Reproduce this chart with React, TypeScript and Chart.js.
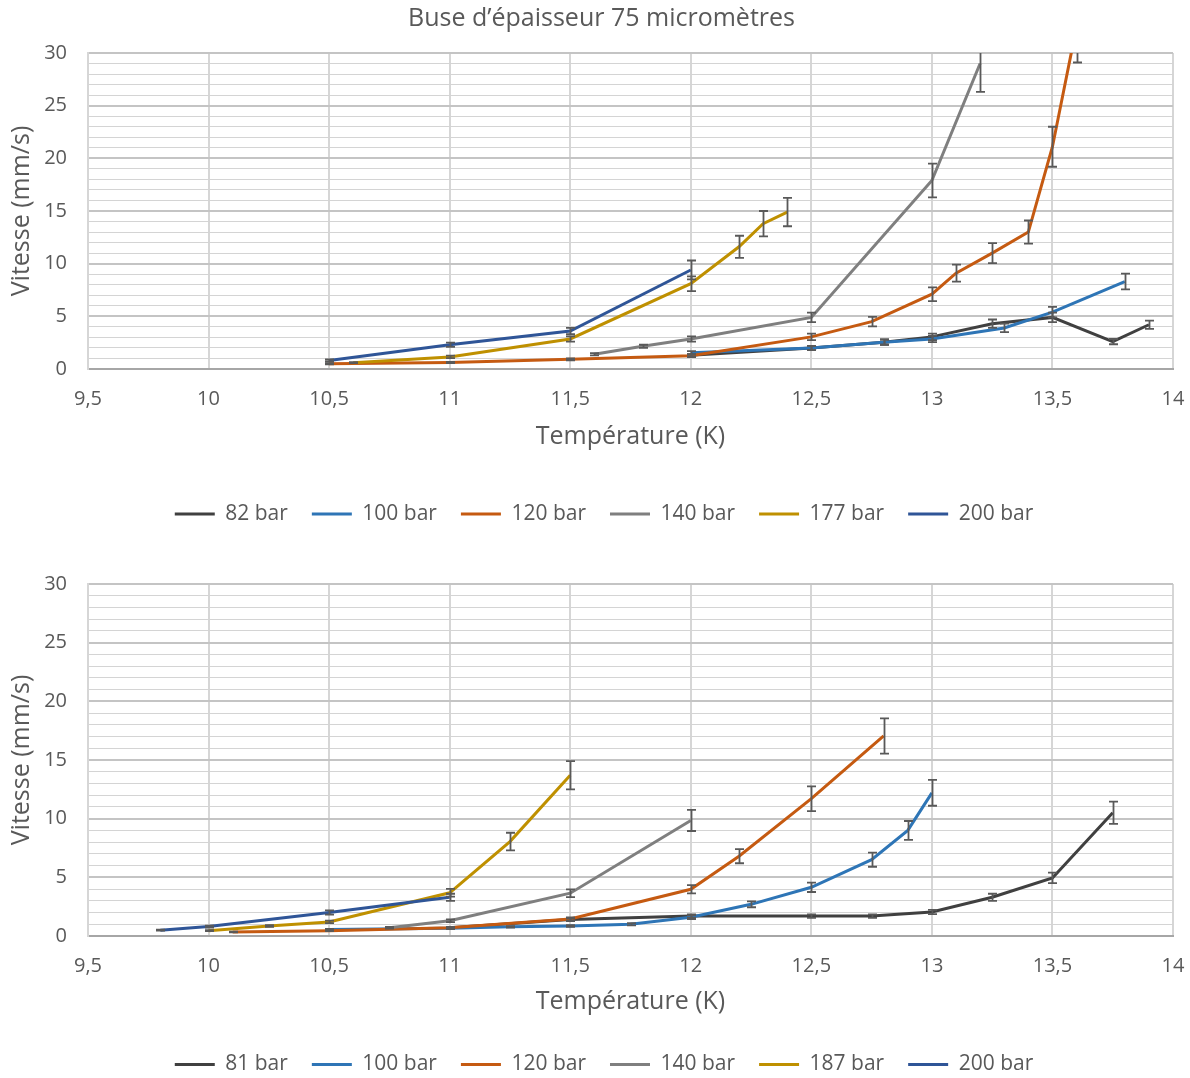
import React, { useEffect, useRef } from "react";
import { Chart, registerables } from "chart.js";

Chart.register(...registerables);

const FONT = "'Open Sans', 'Noto Sans', sans-serif";
const TEXT = "#595959";

// ---------- texts & ticks ----------
const topTitle = "Buse d’épaisseur 75 micromètres";
const xAxisTitle = "Température (K)";
const yAxisTitle = "Vitesse (mm/s)";
const xTicks = [9.5, 10, 10.5, 11, 11.5, 12, 12.5, 13, 13.5, 14];
const xTickLabels = ["9,5", "10", "10,5", "11", "11,5", "12", "12,5", "13", "13,5", "14"];
const yTicks = Array.from({ length: 31 }, (_, i) => i);
const yTickLabels = ["0", "5", "10", "15", "20", "25", "30"];

const seriesColors = ["#404040", "#2e75b6", "#c55a11", "#7f7f7f", "#bf9000", "#2f5597"];
const topLabels = ["82 bar", "100 bar", "120 bar", "140 bar", "177 bar", "200 bar"];
const bottomLabels = ["81 bar", "100 bar", "120 bar", "140 bar", "187 bar", "200 bar"];

// ---------- top chart data ----------
const t82X = [12, 12.5, 12.8, 13, 13.25, 13.5, 13.75, 13.9];
const t82Y = [1.3, 2.0, 2.55, 3.05, 4.3, 4.9, 2.6, 4.2];
const t82E = [0.12, 0.2, 0.25, 0.3, 0.4, 0.45, 0.25, 0.4];

const t100X = [12, 12.5, 12.8, 13, 13.3, 13.5, 13.8];
const t100Y = [1.55, 2.0, 2.55, 2.85, 3.9, 5.4, 8.3];
const t100E = [0.15, 0.2, 0.25, 0.3, 0.4, 0.5, 0.75];

const t120X = [10.5, 11, 11.5, 12, 12.5, 12.75, 13, 13.1, 13.25, 13.4, 13.5, 13.6];
const t120Y = [0.5, 0.62, 0.92, 1.25, 3.05, 4.5, 7.1, 9.1, 11.0, 13.0, 21.1, 32.5];
const t120E = [0.05, 0.06, 0.09, 0.12, 0.3, 0.45, 0.65, 0.8, 0.95, 1.1, 1.9, 3.4];

const t140X = [11.6, 11.8, 12, 12.5, 13, 13.2];
const t140Y = [1.4, 2.15, 2.85, 4.9, 17.9, 29.0];
const t140E = [0.1, 0.15, 0.25, 0.45, 1.6, 2.7];

const t177X = [10.6, 11, 11.5, 12, 12.2, 12.3, 12.4];
const t177Y = [0.6, 1.15, 2.85, 8.1, 11.6, 13.8, 14.9];
const t177E = [0.05, 0.12, 0.25, 0.7, 1.05, 1.2, 1.35];

const t200X = [10.5, 11, 11.5, 12];
const t200Y = [0.8, 2.3, 3.6, 9.4];
const t200E = [0.1, 0.2, 0.3, 0.9];

// ---------- bottom chart data ----------
const b81X = [11, 11.5, 12, 12.5, 12.75, 13, 13.25, 13.5, 13.75];
const b81Y = [0.7, 1.4, 1.7, 1.7, 1.7, 2.05, 3.3, 4.95, 10.5];
const b81E = [0.07, 0.12, 0.15, 0.15, 0.15, 0.18, 0.3, 0.45, 0.95];

const b100X = [10.5, 11, 11.25, 11.5, 11.75, 12, 12.25, 12.5, 12.75, 12.9, 13];
const b100Y = [0.55, 0.65, 0.78, 0.85, 1.0, 1.6, 2.7, 4.15, 6.5, 9.0, 12.2];
const b100E = [0.05, 0.06, 0.07, 0.08, 0.1, 0.15, 0.25, 0.4, 0.6, 0.8, 1.1];

const b120X = [10.1, 10.5, 11, 11.5, 12, 12.2, 12.5, 12.8];
const b120Y = [0.35, 0.45, 0.7, 1.45, 3.98, 6.8, 11.7, 17.05];
const b120E = [0.03, 0.04, 0.07, 0.13, 0.35, 0.6, 1.05, 1.5];

const b140X = [10.75, 11, 11.5, 12];
const b140Y = [0.7, 1.3, 3.65, 9.85];
const b140E = [0.07, 0.12, 0.33, 0.9];

const b187X = [10, 10.25, 10.5, 11, 11.25, 11.5];
const b187Y = [0.45, 0.85, 1.2, 3.68, 8.05, 13.7];
const b187E = [0.04, 0.08, 0.11, 0.33, 0.75, 1.2];

const b200X = [9.8, 10, 10.5, 11];
const b200Y = [0.5, 0.8, 2.0, 3.3];
const b200E = [0.05, 0.08, 0.18, 0.3];

const topSeries = [
  { xs: t82X, ys: t82Y, err: t82E },
  { xs: t100X, ys: t100Y, err: t100E },
  { xs: t120X, ys: t120Y, err: t120E },
  { xs: t140X, ys: t140Y, err: t140E },
  { xs: t177X, ys: t177Y, err: t177E },
  { xs: t200X, ys: t200Y, err: t200E },
];
const bottomSeries = [
  { xs: b81X, ys: b81Y, err: b81E },
  { xs: b100X, ys: b100Y, err: b100E },
  { xs: b120X, ys: b120Y, err: b120E },
  { xs: b140X, ys: b140Y, err: b140E },
  { xs: b187X, ys: b187Y, err: b187E },
  { xs: b200X, ys: b200Y, err: b200E },
];

// ---------- plugins ----------
const errorBarPlugin = {
  id: "errorBars",
  afterDatasetsDraw(chart: any) {
    const { ctx, chartArea, scales } = chart;
    const x = scales.x;
    const y = scales.y;
    ctx.save();
    ctx.beginPath();
    ctx.rect(chartArea.left, chartArea.top, chartArea.right - chartArea.left, chartArea.bottom - chartArea.top);
    ctx.clip();
    ctx.strokeStyle = "#595959";
    ctx.lineWidth = 1.8;
    chart.data.datasets.forEach((ds: any) => {
      const errs = ds.errors;
      if (!errs) return;
      ds.data.forEach((p: any, i: number) => {
        const e = errs[i];
        const px = Math.round(x.getPixelForValue(p.x)) + 0.5;
        const pt = y.getPixelForValue(p.y + e);
        const pb = y.getPixelForValue(p.y - e);
        ctx.beginPath();
        ctx.moveTo(px, pt);
        ctx.lineTo(px, pb);
        ctx.moveTo(px - 4.5, pt);
        ctx.lineTo(px + 4.5, pt);
        ctx.moveTo(px - 4.5, pb);
        ctx.lineTo(px + 4.5, pb);
        ctx.stroke();
      });
    });
    ctx.restore();
  },
};

const shiftPlugin = {
  id: "centerShift",
  afterLayout(chart: any, _args: any, opts: any) {
    if (chart.legend && opts && opts.legend) {
      chart.legend.left += opts.legend;
      chart.legend.right += opts.legend;
    }
    if (chart.titleBlock && opts && opts.title) {
      chart.titleBlock.left += opts.title;
      chart.titleBlock.right += opts.title;
    }
  },
};

type Layout = {
  title?: string;
  padTop: number;
  padBottom: number;
  xAxisHeight: number;
  xTitlePadBottom: number;
  legendShift: number;
  titleShift: number;
};

function makeConfig(series: any[], labels: string[], lay: Layout): any {
  const datasets = series.map((s, i) => ({
    label: labels[i],
    data: s.xs.map((xv: number, j: number) => ({ x: xv, y: s.ys[j] })),
    errors: s.err,
    borderColor: seriesColors[i],
    backgroundColor: seriesColors[i],
    borderWidth: 3,
    pointRadius: 0,
    pointHoverRadius: 0,
    tension: 0,
    fill: false,
    order: -i,
  }));
  return {
    type: "line",
    data: { datasets },
    plugins: [errorBarPlugin, shiftPlugin],
    options: {
      animation: false,
      responsive: false,
      devicePixelRatio: 1,
      layout: { padding: { left: 0, right: 17, top: lay.padTop, bottom: lay.padBottom } },
      plugins: {
        tooltip: { enabled: false },
        centerShift: { legend: lay.legendShift, title: lay.titleShift },
        title: {
          display: !!lay.title,
          text: lay.title || "",
          color: TEXT,
          font: { family: FONT, size: 25, weight: "normal" },
          padding: { top: 3.5, bottom: 19.5 },
        },
        legend: {
          display: true,
          position: "bottom",
          labels: {
            boxWidth: 40,
            boxHeight: 3,
            padding: 24,
            color: TEXT,
            font: { family: FONT, size: 21 },
            sort: (a: any, b: any) => a.datasetIndex - b.datasetIndex,
            generateLabels: (chart: any) =>
              (Chart as any).defaults.plugins.legend.labels
                .generateLabels(chart)
                .map((l: any) => ({ ...l, lineWidth: 0, fillStyle: l.strokeStyle })),
          },
        },
      },
      scales: {
        x: {
          type: "linear",
          min: 9.5,
          max: 14,
          afterBuildTicks: (s: any) => {
            s.ticks = xTicks.map((v) => ({ value: v }));
          },
          afterFit: (s: any) => {
            s.height = lay.xAxisHeight;
          },
          ticks: {
            autoSkip: false,
            maxRotation: 0,
            padding: 0,
            color: TEXT,
            font: { family: FONT, size: 20 },
            callback: (_v: any, i: number) => xTickLabels[i],
          },
          grid: {
            color: "#d6d6d6",
            lineWidth: 2,
            drawTicks: true,
            tickLength: 18,
            tickColor: "rgba(0,0,0,0)",
          },
          border: { display: true, color: "#a6a6a6", width: 2 },
          title: {
            display: true,
            text: xAxisTitle,
            color: TEXT,
            font: { family: FONT, size: 25 },
            padding: { top: 0, bottom: lay.xTitlePadBottom },
          },
        },
        y: {
          type: "linear",
          min: 0,
          max: 30,
          afterBuildTicks: (s: any) => {
            s.ticks = yTicks.map((v) => ({ value: v }));
          },
          afterFit: (s: any) => {
            s.width = 88;
          },
          ticks: {
            autoSkip: false,
            padding: 21,
            color: TEXT,
            font: { family: FONT, size: 20 },
            callback: (v: number) => (v % 5 === 0 ? yTickLabels[v / 5] : ""),
          },
          grid: {
            drawTicks: false,
            color: (c: any) => (c.tick && c.tick.value % 5 === 0 ? "#c4c4c4" : "#d4d4d4"),
            lineWidth: (c: any) => (c.tick && c.tick.value % 5 === 0 ? 2 : 1),
          },
          border: { display: true, color: "#d6d6d6", width: 2 },
          title: {
            display: true,
            text: yAxisTitle,
            color: TEXT,
            font: { family: FONT, size: 25 },
            padding: { top: 7, bottom: 0 },
          },
        },
      },
    },
  };
}

function ChartCanvas(props: { config: any; width: number; height: number; top: number }) {
  const ref = useRef<HTMLCanvasElement>(null);
  useEffect(() => {
    const chart = new Chart(ref.current as HTMLCanvasElement, props.config);
    return () => chart.destroy();
  }, []);
  return (
    <canvas
      ref={ref}
      width={props.width}
      height={props.height}
      style={{ position: "absolute", left: 0, top: props.top, width: props.width, height: props.height, display: "block" }}
    />
  );
}

export default function App() {
  const topConfig = makeConfig(topSeries, topLabels, {
    title: topTitle,
    padTop: 0,
    padBottom: 10.5,
    xAxisHeight: 110.5,
    xTitlePadBottom: 27.5,
    legendShift: 17.5,
    titleShift: 15,
  });
  const bottomConfig = makeConfig(bottomSeries, bottomLabels, {
    padTop: 36,
    padBottom: 0,
    xAxisHeight: 94,
    xTitlePadBottom: 13,
    legendShift: 17.5,
    titleShift: 0,
  });
  return (
    <div
      style={{
        position: "absolute",
        left: 0,
        top: 0,
        width: 1190,
        height: 1078,
        overflow: "hidden",
        background: "#ffffff",
      }}
    >
      <ChartCanvas config={topConfig} width={1190} height={545} top={0} />
      <ChartCanvas config={bottomConfig} width={1190} height={537} top={548} />
    </div>
  );
}
